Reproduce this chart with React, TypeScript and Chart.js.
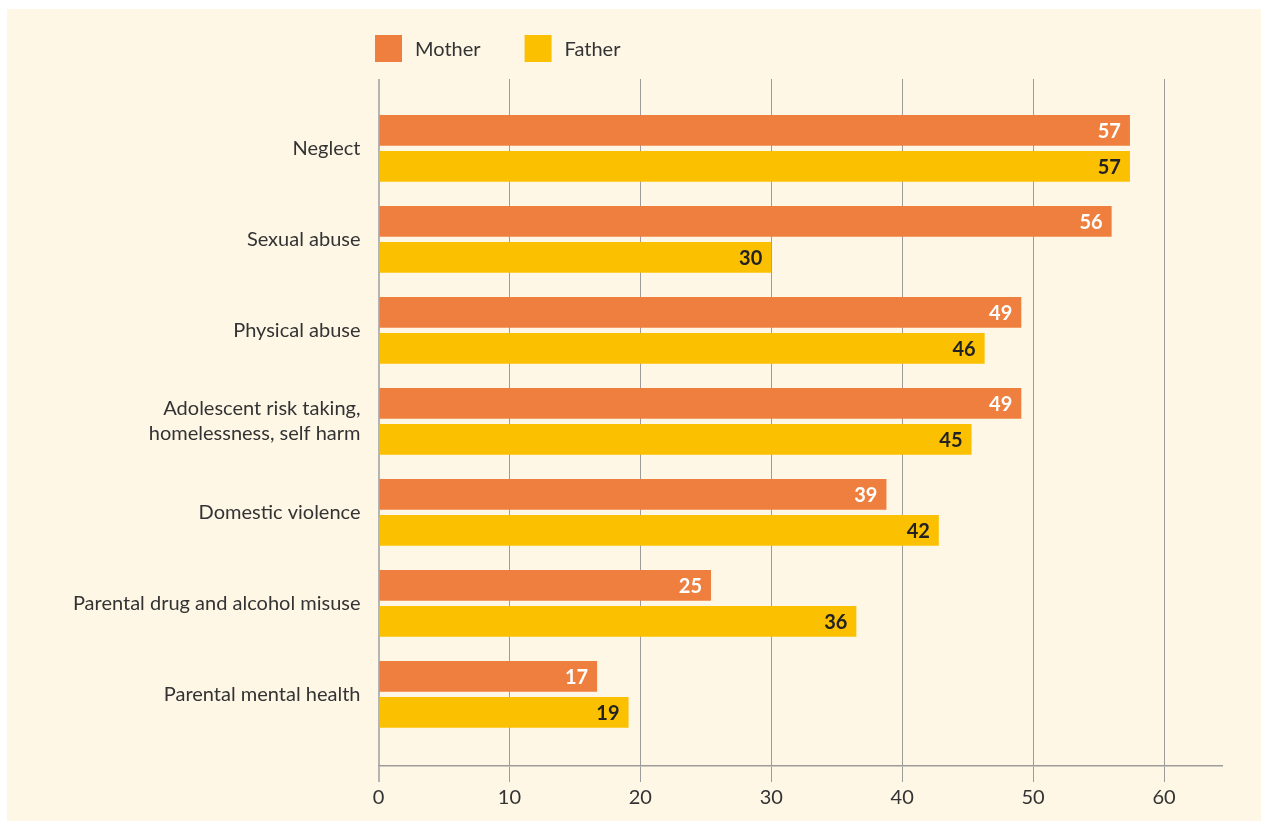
import React, { useEffect, useRef } from 'react';
import { Chart, registerables } from 'chart.js';

Chart.register(...registerables);

const categories: (string | string[])[] = [
  'Neglect',
  'Sexual abuse',
  'Physical abuse',
  ['Adolescent risk taking,', 'homelessness, self harm'],
  'Domestic violence',
  'Parental drug and alcohol misuse',
  'Parental mental health',
];
const seriesNames = ['Mother', 'Father'];
// bar lengths
const motherValues = [57.4, 56.0, 49.1, 49.1, 38.8, 25.4, 16.7];
const fatherValues = [57.4, 30.0, 46.3, 45.3, 42.8, 36.5, 19.1];
// numbers printed on the bars
const motherLabels = [57, 56, 49, 49, 39, 25, 17];
const fatherLabels = [57, 30, 46, 45, 42, 36, 19];
const xTicks = [0, 10, 20, 30, 40, 50, 60];

const FONT = 'Lato';
const MOTHER_COLOR = '#EF7F3E';
const FATHER_COLOR = '#FBC000';
const TEXT_COLOR = '#333333';

const valueLabelPlugin = {
  id: 'valueLabels',
  afterDatasetsDraw(chart: any) {
    const ctx = chart.ctx;
    const lbls = [motherLabels, fatherLabels];
    chart.data.datasets.forEach((_ds: any, di: number) => {
      const meta = chart.getDatasetMeta(di);
      meta.data.forEach((bar: any, i: number) => {
        const { x, y } = bar.getProps(['x', 'y'], true);
        ctx.save();
        ctx.font = `bold 20px ${FONT}`;
        ctx.fillStyle = di === 0 ? '#ffffff' : '#222222';
        ctx.textAlign = 'right';
        ctx.textBaseline = 'middle';
        ctx.fillText(String(lbls[di][i]), x - 9, y + 1);
        ctx.restore();
      });
    });
  },
};

const customLegendPlugin = {
  id: 'customLegend',
  afterDraw(chart: any) {
    const ctx = chart.ctx;
    let x = chart.chartArea.left - 3.5;
    const boxTop = 26;
    const box = 27;
    ctx.save();
    ctx.font = `20px ${FONT}`;
    ctx.textBaseline = 'middle';
    ctx.textAlign = 'left';
    chart.data.datasets.forEach((ds: any) => {
      ctx.fillStyle = ds.backgroundColor;
      ctx.fillRect(x, boxTop, box, box);
      ctx.fillStyle = TEXT_COLOR;
      const tx = x + box + 13;
      ctx.fillText(ds.label, tx, boxTop + box / 2 + 1);
      x = tx + ctx.measureText(ds.label).width + 44;
    });
    ctx.restore();
  },
};

export default function App() {
  const canvasRef = useRef<HTMLCanvasElement | null>(null);

  useEffect(() => {
    if (!canvasRef.current) return;
    const chart = new Chart(canvasRef.current, {
      type: 'bar',
      data: {
        datasets: [
          {
            label: seriesNames[0],
            data: motherValues.map((v, i) => ({ x: v, y: i })),
            backgroundColor: MOTHER_COLOR,
            categoryPercentage: 0.791,
            barPercentage: 0.853,
          },
          {
            label: seriesNames[1],
            data: fatherValues.map((v, i) => ({ x: v, y: i })),
            backgroundColor: FATHER_COLOR,
            categoryPercentage: 0.791,
            barPercentage: 0.853,
          },
        ],
      },
      options: {
        indexAxis: 'y',
        animation: false,
        responsive: true,
        maintainAspectRatio: false,
        layout: { padding: { top: 70, right: 39, bottom: 0, left: 0 } },
        plugins: {
          legend: { display: false },
          tooltip: { enabled: false },
        },
        scales: {
          x: {
            type: 'linear',
            min: 0,
            max: 64.43,
            afterBuildTicks: (s: any) => {
              s.ticks = xTicks.map((v) => ({ value: v }));
            },
            afterFit: (s: any) => {
              s.height = 55;
            },
            ticks: {
              color: TEXT_COLOR,
              font: { family: FONT, size: 20 },
              padding: 4,
              includeBounds: false,
            },
            grid: {
              color: (c: any) => (c.tick && c.tick.value === 0 ? '#b4b4b4' : '#9c9c9c'),
              lineWidth: (c: any) => (c.tick && c.tick.value === 0 ? 2 : 1),
              tickLength: 16,
            },
            border: { color: '#9c9c9c', width: 1.5 },
          },
          y: {
            type: 'linear',
            reverse: true,
            offset: false,
            min: -0.7615,
            max: 6.788,
            afterBuildTicks: (s: any) => {
              s.ticks = categories.map((_c, i) => ({ value: i }));
            },
            afterFit: (s: any) => {
              s.width = 371.5;
            },
            ticks: {
              autoSkip: false,
              color: TEXT_COLOR,
              font: { family: FONT, size: 20, lineHeight: 1.25 },
              padding: 18,
              callback: (v: any) => categories[v as number] as any,
            },
            grid: { display: false, drawTicks: false, offset: false },
            border: { display: false },
          },
        },
      },
      plugins: [valueLabelPlugin, customLegendPlugin],
    } as any);
    return () => chart.destroy();
  }, []);

  return (
    <div
      style={{
        position: 'fixed',
        left: 7,
        top: 9,
        width: 1254,
        height: 812,
        background: '#FEF7E6',
      }}
    >
      <canvas ref={canvasRef} />
    </div>
  );
}
